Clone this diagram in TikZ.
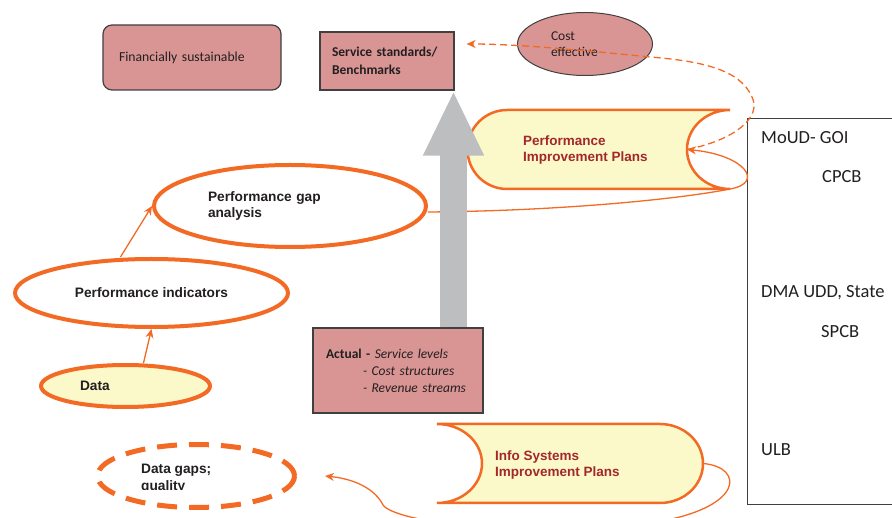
\documentclass[tikz,border=0pt]{standalone}
\usepackage{fontspec}
\setmainfont{Carlito}
\newfontfamily\arialfont{Liberation Sans}
\usepackage{xcolor}
\usepackage{tikz}
\usetikzlibrary{shapes.geometric,arrows.meta}
\definecolor{PlanOrange}{HTML}{F26A24}
\definecolor{PlanFill}{HTML}{FBF8C9}
\definecolor{PlanRed}{HTML}{A3282C}
\definecolor{BoxPink}{HTML}{D99594}
\definecolor{BoxLine}{HTML}{404040}
\definecolor{ArrowGray}{HTML}{BCBEC0}
\definecolor{TextDark}{HTML}{231F20}
\tikzset{
  pinkbox/.style={draw=BoxLine,fill=BoxPink,line width=1.2pt,text=TextDark},
  ovalnode/.style={ellipse,draw=PlanOrange,line width=4pt,fill=white,text=TextDark,font=\arialfont\bfseries\fontsize{13.7}{16}\selectfont},
  plan/.style={draw=PlanOrange,fill=PlanFill,line width=2.5pt},
  plantext/.style={anchor=west,align=left,inner sep=0pt,text=PlanRed,font=\arialfont\bfseries\fontsize{13.5}{16}\selectfont},
  link/.style={draw=PlanOrange,line width=1.3pt,-{Stealth[length=9pt,width=8pt]}},
  orgtext/.style={anchor=west,inner sep=0pt,text=TextDark,font=\fontsize{18.5}{22}\selectfont}
}
\begin{document}
\begin{tikzpicture}[x=1pt,y=1pt]
\useasboundingbox (0,0) rectangle (892,517);
\clip (0,0) rectangle (892,517);
\node[pinkbox,rounded corners=9pt,minimum width=178pt,minimum height=65pt,text width=146pt,align=left,font=\fontsize{13.7}{16}\selectfont] (fin) at (192,459.5) {Financially sustainable};
\node[pinkbox,minimum width=134pt,minimum height=58pt,text width=110pt,align=left,font=\bfseries\fontsize{13.5}{18}\selectfont] (std) at (387,456) {Service standards/\\Benchmarks};
\node[pinkbox,ellipse,line width=1pt,minimum width=135pt,minimum height=63pt,text width=68pt,align=left,font=\fontsize{13.5}{16}\selectfont] (cost) at (585,473) {Cost\\effective};
\node[draw=BoxLine,line width=1pt,minimum width=160pt,minimum height=386pt,anchor=south west,inner sep=0pt] (orgs) at (747,12) {};
\node[orgtext] (moud) at (761,379) {MoUD- GOI};
\node[orgtext] (cpcb) at (822,340) {CPCB};
\node[orgtext] (dma) at (761,224) {DMA UDD, State};
\node[orgtext] (spcb) at (821,185) {SPCB};
\node[orgtext] (ulb) at (761,67) {ULB};
\coordinate (pipNE) at (730,407);
\coordinate (pipSE) at (730,328);
\coordinate (pipdip) at (687,367.5);
\draw[plan] (pipNE) arc[start angle=90,end angle=270,x radius=43,y radius=39.5] -- (507,328) arc[start angle=270,end angle=90,radius=39.5] -- cycle;
\node[plantext] (pip) at (523,367) {Performance\\Improvement Plans};
\coordinate (infoE) at (703,53.5);
\draw[plan] (437,93) arc[start angle=90,end angle=-90,x radius=45,y radius=39.5] -- (660,14) arc[start angle=-90,end angle=90,x radius=43,y radius=39.5] -- cycle;
\node[plantext] (info) at (495,52) {Info Systems\\Improvement Plans};
\node[ovalnode,minimum width=272pt,minimum height=82pt,text width=164pt,align=left] (gap) at (290,311) {Performance gap\\analysis};
\node[ovalnode,minimum width=273pt,minimum height=68pt] (ind) at (151.5,224) {Performance indicators};
\node[ovalnode,fill=PlanFill,minimum width=169pt,minimum height=42pt,text width=91pt,align=left] (data) at (125.5,131) {Data};
\node[ovalnode,line width=5pt,dash pattern=on 20pt off 12pt,minimum width=197pt,minimum height=63pt] (gaps) at (196,41) {};
\begin{scope}
\clip (0,27) rectangle (892,517);
\node[anchor=west,align=left,inner sep=0pt,text=TextDark,font=\arialfont\bfseries\fontsize{13.7}{17}\selectfont] (gapstext) at (141,38.5) {Data gaps;\\quality};
\end{scope}
\draw[link] ([xshift=18pt]data.north) -- (ind.south);
\draw[link] ([xshift=-31pt]ind.north) -- (gap.west);
\draw[link] ([yshift=-6pt]gap.east) .. controls (560,306) and (680,318) .. (pipSE) .. controls (765,334) and (745,362) .. (pipdip);
\draw[link] (infoE) .. controls (745,50) and (745,8) .. (650,-6) .. controls (520,-22) and (395,-5) .. (383,12) .. controls (375,28) and (355,38) .. ([xshift=28pt]gaps.east);
\draw[link,dash pattern=on 7pt off 4pt] (pipdip) .. controls (735,377) and (762,400) .. (752,420) .. controls (740,448) and (700,456) .. (650,460) .. controls (590,466) and (520,473) .. ([shift={(12pt,17pt)}]std.east);
\node[pinkbox,minimum width=170pt,minimum height=85pt,text width=144pt,align=left,font=\fontsize{13.5}{17}\selectfont] (actual) at (398,146.5) {\textbf{Actual -} \textit{Service levels}\\\hspace*{37pt}\textit{- Cost structures}\\\hspace*{37pt}\textit{- Revenue streams}};
\draw[ArrowGray,line width=27pt,-{Triangle[length=65pt,width=56pt]}] ([xshift=55.5pt]actual.north) -- ([xshift=66.5pt]std.south);
\end{tikzpicture}
\end{document}
